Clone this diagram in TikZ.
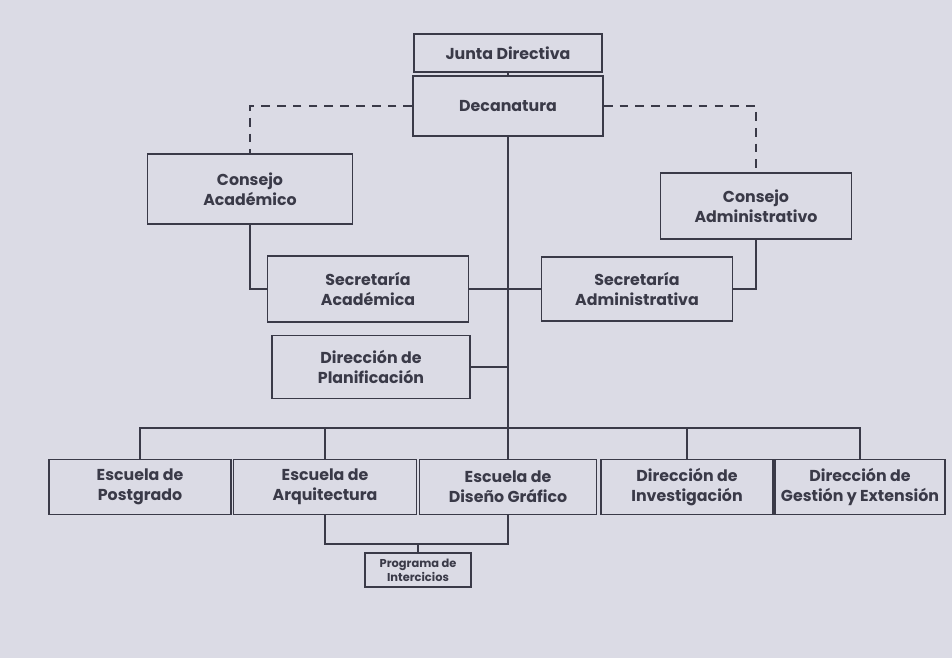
\documentclass[tikz,border=0pt]{standalone}
\usepackage{fontspec}
\setmainfont{Poppins}
\usepackage{tikz}
\definecolor{papel}{RGB}{219,219,229}
\definecolor{tinta}{RGB}{58,58,72}

\begin{document}
\begin{tikzpicture}[x=0.2mm,y=-0.2mm,
  caja/.style={draw=tinta,line width=0.9pt,align=center,text=tinta,
    font=\fontsize{9}{11.5}\selectfont\bfseries,inner sep=1pt},
  linea/.style={draw=tinta,line width=0.9pt}]
%Fondo
\fill[papel] (0,0) rectangle (952,658);
\useasboundingbox (0,0) rectangle (952,658);
%Cajas superiores
\node[caja,minimum width=37.6mm,minimum height=7.6mm] (junta) at (508,53) {Junta Directiva};
\node[caja,minimum width=38mm,minimum height=12mm] (deca) at (508,106) {Decanatura};
\node[caja,minimum width=41mm,minimum height=14mm] (cacad) at (250,189) {Consejo\\Académico};
\node[caja,minimum width=38.2mm,minimum height=13.2mm] (cadm) at (756,206) {Consejo\\Administrativo};
\node[caja,minimum width=40.2mm,minimum height=13.2mm] (secacad) at (368,289) {Secretaría\\Académica};
\node[caja,minimum width=38.2mm,minimum height=12.8mm] (secadm) at (637,289) {Secretaría\\Administrativa};
\node[caja,minimum width=39.6mm,minimum height=12.6mm] (planif) at (371,367) {Dirección de\\Planificación};
%Escuelas y direcciones
\node[caja,minimum width=36.4mm,minimum height=11mm] (postgrado) at (140,487) {Escuela de\\Postgrado};
\node[caja,minimum width=36.6mm,minimum height=11mm] (arq) at (325,487) {Escuela de\\Arquitectura};
\node[caja,minimum width=35.4mm,minimum height=11mm] (diseno) at (508,487) {Escuela de\\Diseño Gráfico};
\node[caja,minimum width=34.4mm,minimum height=11mm] (invest) at (687,487) {Dirección de\\Investigación};
\node[caja,minimum width=34mm,minimum height=11mm] (gestion) at (860,487) {Dirección de\\Gestión y Extensión};
\node[caja,minimum width=21.2mm,minimum height=6.8mm,font=\fontsize{6.5}{8}\selectfont\bfseries] (programa) at (418,570) {Programa de\\Intercicios};
%Conexiones
\coordinate (barra) at (0,428);
\coordinate (puente) at (0,544);
\draw[linea] (junta) -- (deca);
\draw[linea] (deca) -- (diseno);
\draw[linea,dashed,dash pattern=on 5pt off 4pt] (deca.west) -| (cacad.north);
\draw[linea,dashed,dash pattern=on 5pt off 4pt] (deca.east) -| (cadm.north);
\draw[linea] (cacad.south) |- (secacad.west);
\draw[linea] (cadm.south) |- (secadm.east);
\draw[linea] (secacad) -- (secadm);
\draw[linea] (planif.east) -- (planif.east -| deca.south);
\draw[linea] (postgrado.north) -- (postgrado.north |- barra) -- (gestion.north |- barra) -- (gestion.north);
\foreach \n in {arq,invest}
  \draw[linea] (\n.north) -- (\n.north |- barra);
\draw[linea] (arq.south) -- (arq.south |- puente) -- (diseno.south |- puente) -- (diseno.south);
\draw[linea] (programa.north) -- (programa.north |- puente);
\end{tikzpicture}
\end{document}
